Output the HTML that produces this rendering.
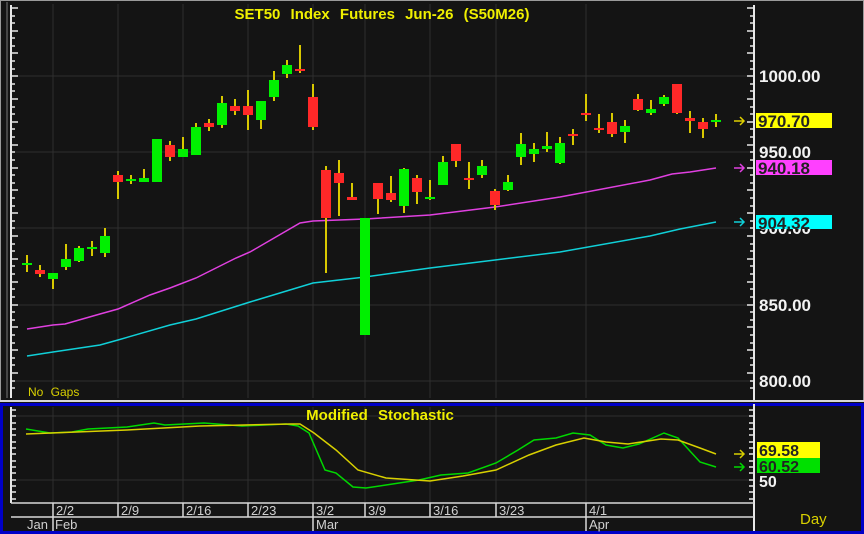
<!DOCTYPE html>
<html><head><meta charset="utf-8"><style>
html,body{margin:0;padding:0;background:#000;}
svg{display:block;font-family:"Liberation Sans",Arial,sans-serif;}
</style></head><body>
<svg width="864" height="534" viewBox="0 0 864 534" xmlns="http://www.w3.org/2000/svg">
<rect x="0" y="0" width="864" height="534" fill="#141414"/>
<rect x="0.5" y="0.5" width="863" height="400" fill="none" stroke="#9a9a9a" stroke-width="1"/>
<line x1="7" y1="2" x2="7" y2="398" stroke="#777" stroke-width="1"/>
<g stroke="#2e2e2e" stroke-width="1">
<line x1="53" y1="4" x2="53" y2="398"/><line x1="118" y1="4" x2="118" y2="398"/><line x1="183" y1="4" x2="183" y2="398"/><line x1="248" y1="4" x2="248" y2="398"/><line x1="313" y1="4" x2="313" y2="398"/><line x1="365" y1="4" x2="365" y2="398"/><line x1="430" y1="4" x2="430" y2="398"/><line x1="496" y1="4" x2="496" y2="398"/><line x1="586" y1="4" x2="586" y2="398"/>
<line x1="11" y1="76" x2="754" y2="76"/><line x1="11" y1="152" x2="754" y2="152"/><line x1="11" y1="228" x2="754" y2="228"/><line x1="11" y1="305" x2="754" y2="305"/><line x1="11" y1="381" x2="754" y2="381"/>
</g>
<line x1="11" y1="5" x2="11" y2="398" stroke="#e8e8e8" stroke-width="2"/>
<path d="M11 8h7M11 16h4M11 23h4M11 31h7M11 38h4M11 46h4M11 53h7M11 61h4M11 69h4M11 76h7M11 84h4M11 91h4M11 99h7M11 107h4M11 114h4M11 122h7M11 129h4M11 137h4M11 145h7M11 152h4M11 160h4M11 168h7M11 175h4M11 183h4M11 190h7M11 198h4M11 206h4M11 213h7M11 221h4M11 228h4M11 236h7M11 244h4M11 251h4M11 259h7M11 266h4M11 274h4M11 282h7M11 289h4M11 297h4M11 305h7M11 312h4M11 320h4M11 327h7M11 335h4M11 343h4M11 350h7M11 358h4M11 365h4M11 373h7M11 381h4M11 388h4" stroke="#e8e8e8" stroke-width="1.5"/>
<line x1="754" y1="5" x2="754" y2="400" stroke="#e8e8e8" stroke-width="2"/>
<path d="M754 8h-7M754 16h-4M754 23h-4M754 31h-7M754 38h-4M754 46h-4M754 53h-7M754 61h-4M754 69h-4M754 76h-7M754 84h-4M754 91h-4M754 99h-7M754 107h-4M754 114h-4M754 122h-7M754 129h-4M754 137h-4M754 145h-7M754 152h-4M754 160h-4M754 168h-7M754 175h-4M754 183h-4M754 190h-7M754 198h-4M754 206h-4M754 213h-7M754 221h-4M754 228h-4M754 236h-7M754 244h-4M754 251h-4M754 259h-7M754 266h-4M754 274h-4M754 282h-7M754 289h-4M754 297h-4M754 305h-7M754 312h-4M754 320h-4M754 327h-7M754 335h-4M754 343h-4M754 350h-7M754 358h-4M754 365h-4M754 373h-7M754 381h-4M754 388h-4" stroke="#e8e8e8" stroke-width="1.5"/>
<g fill="#f2f2f2" font-weight="bold" font-size="17">
<text x="759" y="82">1000.00</text><text x="759" y="158">950.00</text><text x="759" y="234">900.00</text><text x="759" y="311">850.00</text><text x="759" y="387">800.00</text>
</g>
<polyline fill="none" stroke="#e040e0" stroke-width="1.5" points="27,329 53,325 65,324 100,314 118,309 150,295 170,288 196,278 236,258 250,252 300,223 313,221 365,219 430,215 495,207 560,197 650,180 672,174 690,172 716,168"/>
<polyline fill="none" stroke="#10d0d8" stroke-width="1.5" points="27,356 53,352 100,345 118,340 170,325 196,319 250,302 313,283 365,277 430,268 495,260 560,252 650,236 680,229 716,222"/>
<g stroke="#d8c800" stroke-width="2">
<line x1="27" y1="255" x2="27" y2="272"/><line x1="40" y1="265" x2="40" y2="277"/><line x1="53" y1="273" x2="53" y2="289"/><line x1="66" y1="244" x2="66" y2="270"/><line x1="79" y1="246" x2="79" y2="262"/><line x1="92" y1="241" x2="92" y2="256"/><line x1="105" y1="228" x2="105" y2="257"/><line x1="118" y1="171" x2="118" y2="199"/><line x1="131" y1="175" x2="131" y2="184"/><line x1="144" y1="169" x2="144" y2="182"/><line x1="157" y1="139" x2="157" y2="182"/><line x1="170" y1="141" x2="170" y2="161"/><line x1="183" y1="137" x2="183" y2="157"/><line x1="196" y1="123" x2="196" y2="155"/><line x1="209" y1="119" x2="209" y2="131"/><line x1="222" y1="96" x2="222" y2="128"/><line x1="235" y1="99" x2="235" y2="115"/><line x1="248" y1="90" x2="248" y2="130"/><line x1="261" y1="101" x2="261" y2="129"/><line x1="274" y1="71" x2="274" y2="101"/><line x1="287" y1="60" x2="287" y2="78"/><line x1="300" y1="45" x2="300" y2="73"/><line x1="313" y1="84" x2="313" y2="130"/><line x1="326" y1="166" x2="326" y2="273"/><line x1="339" y1="160" x2="339" y2="216"/><line x1="352" y1="183" x2="352" y2="200"/><line x1="365" y1="218" x2="365" y2="335"/><line x1="378" y1="183" x2="378" y2="214"/><line x1="391" y1="176" x2="391" y2="202"/><line x1="404" y1="168" x2="404" y2="213"/><line x1="417" y1="175" x2="417" y2="204"/><line x1="430" y1="180" x2="430" y2="200"/><line x1="443" y1="156" x2="443" y2="185"/><line x1="456" y1="144" x2="456" y2="167"/><line x1="469" y1="162" x2="469" y2="189"/><line x1="482" y1="160" x2="482" y2="178"/><line x1="495" y1="189" x2="495" y2="210"/><line x1="508" y1="175" x2="508" y2="191"/><line x1="521" y1="133" x2="521" y2="165"/><line x1="534" y1="143" x2="534" y2="162"/><line x1="547" y1="132" x2="547" y2="152"/><line x1="560" y1="137" x2="560" y2="164"/><line x1="573" y1="129" x2="573" y2="145"/><line x1="586" y1="94" x2="586" y2="121"/><line x1="599" y1="114" x2="599" y2="133"/><line x1="612" y1="113" x2="612" y2="137"/><line x1="625" y1="120" x2="625" y2="143"/><line x1="638" y1="94" x2="638" y2="111"/><line x1="651" y1="100" x2="651" y2="115"/><line x1="664" y1="95" x2="664" y2="106"/><line x1="677" y1="84" x2="677" y2="114"/><line x1="690" y1="111" x2="690" y2="133"/><line x1="703" y1="118" x2="703" y2="138"/><line x1="716" y1="114" x2="716" y2="127"/>
</g>
<g fill="#00f000">
<rect x="22" y="263" width="10" height="2"/><rect x="48" y="273" width="10" height="6"/><rect x="61" y="259" width="10" height="8"/><rect x="74" y="248" width="10" height="13"/><rect x="87" y="247" width="10" height="2"/><rect x="100" y="236" width="10" height="17"/><rect x="126" y="179" width="10" height="2"/><rect x="139" y="178" width="10" height="4"/><rect x="152" y="139" width="10" height="43"/><rect x="178" y="149" width="10" height="8"/><rect x="191" y="127" width="10" height="28"/><rect x="217" y="103" width="10" height="22"/><rect x="256" y="101" width="10" height="19"/><rect x="269" y="80" width="10" height="17"/><rect x="282" y="65" width="10" height="9"/><rect x="360" y="218" width="10" height="117"/><rect x="399" y="169" width="10" height="37"/><rect x="425" y="197" width="10" height="2"/><rect x="438" y="162" width="10" height="23"/><rect x="477" y="166" width="10" height="9"/><rect x="503" y="182" width="10" height="8"/><rect x="516" y="144" width="10" height="13"/><rect x="529" y="149" width="10" height="5"/><rect x="542" y="146" width="10" height="3"/><rect x="555" y="143" width="10" height="20"/><rect x="620" y="126" width="10" height="6"/><rect x="646" y="109" width="10" height="4"/><rect x="659" y="97" width="10" height="7"/><rect x="711" y="120" width="10" height="2"/>
</g>
<g fill="#ff2828">
<rect x="35" y="270" width="10" height="4"/><rect x="113" y="175" width="10" height="7"/><rect x="165" y="145" width="10" height="12"/><rect x="204" y="123" width="10" height="4"/><rect x="230" y="106" width="10" height="5"/><rect x="243" y="106" width="10" height="9"/><rect x="295" y="69" width="10" height="2"/><rect x="308" y="97" width="10" height="30"/><rect x="321" y="170" width="10" height="48"/><rect x="334" y="173" width="10" height="10"/><rect x="347" y="197" width="10" height="3"/><rect x="373" y="183" width="10" height="16"/><rect x="386" y="193" width="10" height="7"/><rect x="412" y="178" width="10" height="14"/><rect x="451" y="144" width="10" height="17"/><rect x="464" y="178" width="10" height="2"/><rect x="490" y="191" width="10" height="14"/><rect x="568" y="134" width="10" height="2"/><rect x="581" y="113" width="10" height="2"/><rect x="594" y="128" width="10" height="2"/><rect x="607" y="122" width="10" height="12"/><rect x="633" y="99" width="10" height="11"/><rect x="672" y="84" width="10" height="29"/><rect x="685" y="118" width="10" height="3"/><rect x="698" y="122" width="10" height="7"/>
</g>
<g stroke-width="1.5" fill="none">
<path d="M734 121h10M740 117l4 4-4 4" stroke="#e0d000"/>
<path d="M734 168h10M740 164l4 4-4 4" stroke="#e040e0"/>
<path d="M734 222h10M740 218l4 4-4 4" stroke="#10d0d8"/>
<path d="M734 454h10M740 450l4 4-4 4" stroke="#d8d000"/>
<path d="M734 467h10M740 463l4 4-4 4" stroke="#00d800"/>
</g>
<rect x="756" y="113" width="76" height="15" fill="#ffff00"/>
<text x="758" y="127" fill="#222" font-size="17" font-weight="bold">970.70</text>
<rect x="756" y="160" width="76" height="15" fill="#ff40ff"/>
<text x="758" y="174" fill="#222" font-size="17" font-weight="bold">940.18</text>
<rect x="756" y="215" width="76" height="14" fill="#00ffff"/>
<text x="758" y="229" fill="#222" font-size="17" font-weight="bold">904.32</text>
<text x="382" y="19" fill="#f0f000" font-size="15" font-weight="bold" text-anchor="middle" word-spacing="6">SET50 Index Futures Jun-26 (S50M26)</text>
<text x="28" y="396" fill="#d8d000" font-size="12" word-spacing="4">No Gaps</text>

<rect x="0" y="400" width="864" height="2" fill="#d8d8d8"/>
<rect x="1.5" y="404.5" width="861" height="128" fill="none" stroke="#0000c8" stroke-width="3"/>
<g stroke="#2e2e2e" stroke-width="1">
<line x1="53" y1="407" x2="53" y2="503"/><line x1="118" y1="407" x2="118" y2="503"/><line x1="183" y1="407" x2="183" y2="503"/><line x1="248" y1="407" x2="248" y2="503"/><line x1="313" y1="407" x2="313" y2="503"/><line x1="365" y1="407" x2="365" y2="503"/><line x1="430" y1="407" x2="430" y2="503"/><line x1="496" y1="407" x2="496" y2="503"/><line x1="586" y1="407" x2="586" y2="503"/>
<line x1="11" y1="480" x2="754" y2="480"/><line x1="11" y1="416" x2="754" y2="416"/>
</g>
<line x1="11" y1="407" x2="11" y2="503" stroke="#e8e8e8" stroke-width="2"/>
<path d="M11 410h5M11 416h5M11 423h5M11 429h5M11 435h5M11 442h5M11 448h5M11 454h5M11 461h5M11 467h5M11 473h5M11 480h5M11 486h5M11 492h5M11 499h5" stroke="#e8e8e8" stroke-width="1.5"/>
<line x1="754" y1="404" x2="754" y2="531" stroke="#e8e8e8" stroke-width="2"/>
<path d="M754 410h-5M754 416h-5M754 423h-5M754 429h-5M754 435h-5M754 442h-5M754 448h-5M754 454h-5M754 461h-5M754 467h-5M754 473h-5M754 480h-5M754 486h-5M754 492h-5M754 499h-5" stroke="#e8e8e8" stroke-width="1.5"/>
<line x1="11" y1="503" x2="754" y2="503" stroke="#d8d8d8" stroke-width="1.5"/>
<line x1="11" y1="517" x2="754" y2="517" stroke="#d8d8d8" stroke-width="1.5"/>
<g stroke="#d8d8d8" stroke-width="1.5">
<line x1="53" y1="503" x2="53" y2="531"/><line x1="118" y1="503" x2="118" y2="517"/><line x1="183" y1="503" x2="183" y2="517"/><line x1="248" y1="503" x2="248" y2="517"/><line x1="313" y1="503" x2="313" y2="531"/><line x1="365" y1="503" x2="365" y2="517"/><line x1="430" y1="503" x2="430" y2="517"/><line x1="496" y1="503" x2="496" y2="517"/><line x1="586" y1="503" x2="586" y2="531"/>
</g>
<g fill="#d0d0d0" font-size="13">
<text x="56" y="515">2/2</text><text x="121" y="515">2/9</text><text x="186" y="515">2/16</text><text x="251" y="515">2/23</text><text x="316" y="515">3/2</text><text x="368" y="515">3/9</text><text x="433" y="515">3/16</text><text x="499" y="515">3/23</text><text x="589" y="515">4/1</text>
<text x="27" y="529">Jan</text><text x="55" y="529">Feb</text><text x="316" y="529">Mar</text><text x="589" y="529">Apr</text>
</g>
<polyline fill="none" stroke="#00d800" stroke-width="1.5" points="26,429 50,433 72,432 88,429 127,427 154,423 165,425 204,423 242,426 286,424 298,426 309,433 325,470 336,473 353,487 366,488 386,485 419,480 441,475 468,473 496,463 518,450 534,440 556,438 573,433 590,435 606,445 623,448 639,444 664,433 678,438 700,462 716,467"/>
<polyline fill="none" stroke="#d8d000" stroke-width="1.5" points="26,434 127,430 200,426 290,424 300,424 314,433 336,450 358,470 386,478 430,481 463,476 496,470 529,455 556,445 584,438 606,442 628,444 661,439 678,440 700,448 716,454"/>
<text x="380" y="420" fill="#f0f000" font-size="15" font-weight="bold" text-anchor="middle" word-spacing="6">Modified Stochastic</text>
<rect x="757" y="442" width="63" height="16" fill="#ffff00"/>
<text x="759" y="456" fill="#222" font-size="16" font-weight="bold">69.58</text>
<rect x="757" y="458" width="63" height="15" fill="#00e000"/>
<text x="759" y="472" fill="#222" font-size="16" font-weight="bold">60.52</text>
<text x="759" y="487" fill="#f2f2f2" font-size="16" font-weight="bold">50</text>
<text x="800" y="524" fill="#d8d000" font-size="15">Day</text>
</svg>
</body></html>
